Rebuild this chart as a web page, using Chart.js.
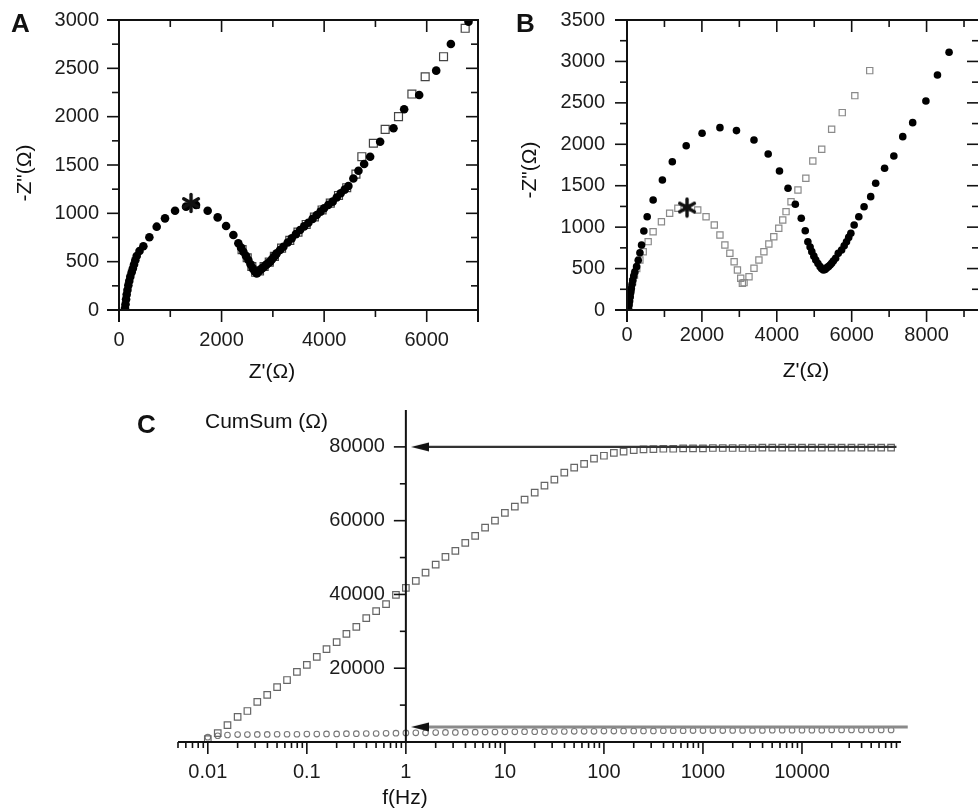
<!DOCTYPE html>
<html><head><meta charset="utf-8">
<script src="https://cdn.jsdelivr.net/npm/chart.js@4.4.1/dist/chart.umd.min.js"></script>
<style>
html,body{margin:0;padding:0;background:#fff;overflow:hidden;width:978px;height:809px;position:relative;}
canvas{position:absolute;}
#cA{left:0;top:0;}
#cB{left:490px;top:0;}
#cC{left:0;top:390px;}
</style></head><body>
<canvas id="cA" width="490" height="390"></canvas>
<canvas id="cB" width="500" height="390"></canvas>
<canvas id="cC" width="978" height="419"></canvas>
<script>
// ---------------- DATA ----------------
// Panel A : Nyquist plot  [Z' (ohm), -Z'' (ohm)]
const aCircles = [[117,17],[127,60],[138,110],[150,160],[165,207],[182,255],[200,300],[220,345],[247,390],[270,430],[293,470],[318,515],[345,559],[400,610],[475,660],[592,752],[735,862],[897,948],[1093,1027],[1307,1069],[1502,1086],[1729,1027],[1924,958],[2088,869],[2230,776],[2327,690],[2380,645],[2425,603],[2475,560],[2522,517],[2565,474],[2607,431],[2645,400],[2685,379],[2720,395],[2755,415],[2785,430],[2815,441],[2850,458],[2880,472],[2915,487],[2946,500],[2980,522],[3010,543],[3045,565],[3075,586],[3140,620],[3206,655],[3290,698],[3368,741],[3450,785],[3531,828],[3610,865],[3693,903],[3775,943],[3856,983],[3930,1018],[3999,1052],[4080,1087],[4167,1121],[4245,1164],[4323,1207],[4400,1245],[4473,1283],[4570,1360],[4669,1440],[4780,1510],[4897,1586],[5092,1741],[5352,1880],[5560,2076],[5853,2224],[6185,2476],[6471,2752],[6815,2983]];
const aSquares = [[2400,625],[2500,540],[2590,450],[2665,390],[2740,405],[2830,450],[2930,495],[3030,555],[3170,640],[3330,720],[3490,805],[3650,885],[3810,962],[3960,1035],[4120,1105],[4280,1185],[4440,1265],[4620,1405],[4735,1586],[4960,1725],[5190,1869],[5450,2000],[5711,2234],[5970,2413],[6328,2620],[6750,2914]];
const aStar = [1405,1107];
const aXTicks = [0,2000,4000,6000];
const aYTicks = [0,500,1000,1500,2000,2500,3000];

// Panel B : Nyquist plot
const bCircles = [[40,15],[55,60],[70,110],[85,160],[100,210],[115,260],[135,310],[155,360],[180,410],[210,460],[256,523],[300,600],[345,690],[389,785],[450,954],[539,1126],[698,1328],[945,1569],[1210,1790],[1581,1983],[2005,2133],[2482,2201],[2923,2165],[3391,2052],[3770,1883],[4072,1678],[4300,1469],[4495,1276],[4654,1107],[4760,957],[4830,824],[4890,760],[4935,704],[4990,650],[5041,604],[5100,560],[5157,523],[5200,498],[5245,483],[5290,490],[5330,508],[5377,523],[5423,543],[5465,564],[5510,590],[5571,624],[5642,684],[5730,724],[5800,774],[5862,824],[5920,876],[5978,926],[6066,1026],[6190,1126],[6331,1247],[6508,1368],[6641,1529],[6879,1710],[7126,1859],[7364,2092],[7629,2261],[7982,2523],[8291,2836],[8601,3110]];
const bSquares = [[40,20],[60,100],[85,180],[115,260],[150,340],[200,420],[260,500],[344,604],[433,704],[565,825],[697,945],[919,1066],[1139,1167],[1359,1228],[1600,1235],[1889,1207],[2111,1126],[2331,1026],[2482,905],[2614,785],[2747,684],[2861,583],[2949,483],[3037,383],[3081,322],[3126,330],[3258,402],[3391,503],[3523,604],[3656,704],[3788,797],[3920,885],[4053,986],[4159,1086],[4247,1187],[4380,1307],[4565,1448],[4776,1590],[4962,1798],[5200,1940],[5465,2181],[5748,2382],[6084,2587],[6482,2889]];
const bStar = [1603,1237];
const bXTicks = [0,2000,4000,6000,8000];
const bYTicks = [0,500,1000,1500,2000,2500,3000,3500];

// Panel C : cumulative sum vs frequency
const cFreq = [0.01,0.0126,0.0158,0.02,0.0251,0.0316,0.0398,0.0501,0.0631,0.0794,
  0.1,0.126,0.158,0.2,0.251,0.316,0.398,0.501,0.631,0.794,
  1,1.26,1.58,2,2.51,3.16,3.98,5.01,6.31,7.94,
  10,12.6,15.8,20,25.1,31.6,39.8,50.1,63.1,79.4,
  100,126,158,200,251,316,398,501,631,794,
  1000,1259,1585,1995,2512,3162,3981,5012,6310,7943,
  10000,12589,15849,19953,25119,31623,39811,50119,63096,79433];
const cRise = [800,2400,4600,6800,8400,10900,12800,14900,16800,19000,
  20900,23100,25200,27100,29300,31200,33600,35500,37400,39900,
  41800,43700,45900,48100,50200,51800,54000,55900,58100,60000,
  62100,63800,65700,67600,69500,71100,73000,74400,75400,76800,
  77600,78400,78700,79100,79300,79400,79500,79500,79600,79600,
  79600,79700,79700,79700,79700,79700,79800,79800,79800,79800,
  79800,79800,79800,79800,79800,79800,79800,79800,79800,79800];
const cBase = [1300,1700,1900,2000,2000,2050,2050,2100,2100,2100,
  2150,2150,2200,2200,2250,2250,2300,2300,2350,2400,
  2450,2500,2500,2550,2600,2600,2650,2650,2700,2700,
  2750,2750,2800,2800,2800,2850,2850,2900,2900,2900,
  2950,2950,3000,3000,3000,3000,3050,3050,3050,3100,
  3100,3100,3100,3150,3150,3150,3150,3200,3200,3200,
  3200,3200,3200,3250,3250,3250,3250,3250,3250,3250];
const cArrowTop = [[1.39,80000],[90000,80000]];
const cArrowLow = [[1.39,4100],[117000,4100]];
const cXTicks = [0.01,0.1,1,10,100,1000,10000];
const cYTicks = [20000,40000,60000,80000];

// ---------------- STYLE / HELPERS ----------------
const FONT = "'Liberation Sans', Arial, Helvetica, sans-serif";
Chart.defaults.font.family = FONT;
Chart.defaults.color = '#1c1c1c';
Chart.defaults.animation = false;

const pts = arr => arr.map(p => ({x: p[0], y: p[1]}));
const zip = (xs, ys) => xs.map((x, i) => ({x, y: ys[i]}));

function linTicks(min, max, minor, major) {
  const out = [];
  for (let v = min; v <= max + 1e-9; v += minor) out.push({v, major: Math.abs(v / major - Math.round(v / major)) < 1e-6});
  return out;
}
function logTicks(min, max) {
  const out = [];
  for (let d = -4; d <= 6; d++) for (let m = 1; m <= 9; m++) {
    const v = m * Math.pow(10, d);
    if (v >= min * 0.999 && v < max * 0.999) out.push({v, major: m === 1});
  }
  return out;
}

const axisFrame = {
  id: 'axisFrame',
  afterDatasetsDraw(chart, args, o) {
    if (!o || !o.mode) return;
    const ctx = chart.ctx, ca = chart.chartArea, xs = chart.scales.x, ys = chart.scales.y;
    const seg = (x1, y1, x2, y2) => { ctx.beginPath(); ctx.moveTo(x1, y1); ctx.lineTo(x2, y2); ctx.stroke(); };
    ctx.save();
    ctx.strokeStyle = o.color;
    const lw = o.lineWidth;
    if (o.mode === 'box') {
      const L = ca.left, R = ca.right, T = ca.top, B = ca.bottom, e = o.ext;
      ctx.lineWidth = o.tickWidth;
      o.xTicks.forEach(t => {
        const p = xs.getPixelForValue(t.v), len = t.major ? o.majorLen : o.minorLen;
        seg(p, B, p, B + len); seg(p, T, p, T + len);
      });
      o.yTicks.forEach(t => {
        const p = ys.getPixelForValue(t.v), len = t.major ? o.majorLen : o.minorLen;
        seg(L, p, L - len, p); seg(R, p, R - len, p);
      });
      ctx.lineWidth = lw;
      seg(L - e, B, R + lw / 2, B); seg(L - e, T, R + lw / 2, T);
      seg(L, T - lw / 2, L, B + e); seg(R, T - lw / 2, R, B + e);
    } else {
      const ax = xs.getPixelForValue(o.yAt), B = ys.getPixelForValue(0);
      ctx.lineWidth = o.tickWidth;
      o.xTicks.forEach(t => {
        const p = xs.getPixelForValue(t.v), len = t.major ? o.majorLen : o.minorLen;
        seg(p, B, p, B + len);
      });
      o.yTicks.forEach(t => {
        const p = ys.getPixelForValue(t.v), len = t.major ? o.majorLen : o.minorLen;
        seg(ax, p, ax - len, p);
      });
      ctx.lineWidth = lw;
      seg(ca.left, B, ca.right, B);
      seg(ax, ca.top, ax, B + lw / 2);
    }
    ctx.restore();
  }
};

const panelText = {
  id: 'panelText',
  afterDraw(chart, args, o) {
    const ctx = chart.ctx;
    (o.items || []).forEach(t => {
      ctx.save();
      ctx.font = t.font; ctx.fillStyle = t.color || '#111';
      ctx.textAlign = t.align || 'center'; ctx.textBaseline = t.baseline || 'middle';
      ctx.translate(t.x, t.y); if (t.rot) ctx.rotate(t.rot);
      ctx.fillText(t.text, 0, 0);
      ctx.restore();
    });
  }
};

const tickFont = {family: FONT, size: 20};
const titleFont = "21px " + FONT;
const letterFont = "bold 26px " + FONT;
const fmt = v => String(v);

function fixSize(key, val) {
  return s => { s[key] = val; s.paddingTop = 0; s.paddingBottom = 0; s.paddingLeft = 0; s.paddingRight = 0; };
}
function linScale(min, max, ticks, fitKey, fitVal, pad) {
  return {
    type: 'linear', min, max,
    afterBuildTicks: s => { s.ticks = ticks.map(v => ({value: v})); },
    afterFit: fixSize(fitKey, fitVal),
    grid: {display: false, drawTicks: false},
    border: {display: false},
    ticks: {padding: pad, font: tickFont, color: '#1c1c1c', maxRotation: 0, autoSkip: false, callback: fmt}
  };
}

// asterisk marker image (drawn as a point style)
function asteriskImg() {
  const c = document.createElement('canvas');
  c.width = 22; c.height = 22;
  const g = c.getContext('2d');
  g.strokeStyle = '#111'; g.lineWidth = 3.4; g.lineCap = 'round';
  for (let k = 0; k < 3; k++) {
    const a = Math.PI / 2 + k * Math.PI / 3;
    g.beginPath();
    g.moveTo(11 + 8.5 * Math.cos(a), 11 + 8.5 * Math.sin(a));
    g.lineTo(11 - 8.5 * Math.cos(a), 11 - 8.5 * Math.sin(a));
    g.stroke();
  }
  return c;
}
const starImg = asteriskImg();

const common = {
  responsive: false, maintainAspectRatio: false, animation: false, events: [],
  devicePixelRatio: 1
};

// ---------------- PANEL A ----------------
new Chart(document.getElementById('cA'), {
  type: 'scatter',
  data: {datasets: [
    {label: 'star', data: pts([aStar]), pointStyle: starImg, pointRadius: 10},
    {label: 'A filled', data: pts(aCircles), pointStyle: 'circle', pointRadius: 4.3, backgroundColor: '#000', borderColor: '#000', borderWidth: 0},
    {label: 'A open', data: pts(aSquares), pointStyle: 'rect', pointRadius: 5.6, backgroundColor: 'rgba(255,255,255,0)', borderColor: '#444', borderWidth: 1.2}
  ]},
  options: Object.assign({}, common, {
    layout: {padding: {left: 0, top: 20, right: 12, bottom: 0}},
    scales: {
      x: linScale(0, 7000, aXTicks, 'height', 80, 18),
      y: linScale(0, 3000, aYTicks, 'width', 119, 20)
    },
    plugins: {
      legend: {display: false}, tooltip: {enabled: false},
      axisFrame: {mode: 'box', color: '#111', lineWidth: 2, tickWidth: 1.6, ext: 12, majorLen: 12, minorLen: 7,
        xTicks: linTicks(0, 7000, 1000, 2000), yTicks: linTicks(0, 3000, 250, 500)},
      panelText: {
        items: [
          {text: 'A', x: 11, y: 32, font: letterFont, align: 'left', baseline: 'alphabetic'},
          {text: '-Z"(Ω)', x: 25, y: 173, font: titleFont, rot: -Math.PI / 2},
          {text: "Z'(Ω)", x: 272, y: 372, font: titleFont}
        ]
      }
    }
  }),
  plugins: [axisFrame, panelText]
});

// ---------------- PANEL B ----------------
new Chart(document.getElementById('cB'), {
  type: 'scatter',
  data: {datasets: [
    {label: 'star', data: pts([bStar]), pointStyle: starImg, pointRadius: 10},
    {label: 'B filled', data: pts(bCircles), pointStyle: 'circle', pointRadius: 3.8, backgroundColor: '#000', borderColor: '#000', borderWidth: 0},
    {label: 'B open', data: pts(bSquares), pointStyle: 'rect', pointRadius: 4.4, backgroundColor: 'rgba(255,255,255,0)', borderColor: '#8a8a8a', borderWidth: 1.2}
  ]},
  options: Object.assign({}, common, {
    layout: {padding: {left: 0, top: 20, right: 8, bottom: 0}},
    scales: {
      x: linScale(0, 9400, bXTicks, 'height', 80, 13),
      y: linScale(0, 3500, bYTicks, 'width', 137, 22)
    },
    plugins: {
      legend: {display: false}, tooltip: {enabled: false},
      axisFrame: {mode: 'box', color: '#111', lineWidth: 2, tickWidth: 1.6, ext: 12, majorLen: 12, minorLen: 7,
        xTicks: linTicks(0, 9000, 1000, 2000), yTicks: linTicks(0, 3500, 250, 500)},
      panelText: {
        items: [
          {text: 'B', x: 26, y: 32, font: letterFont, align: 'left', baseline: 'alphabetic'},
          {text: '-Z"(Ω)', x: 40, y: 170, font: titleFont, rot: -Math.PI / 2},
          {text: "Z'(Ω)", x: 316, y: 371, font: titleFont}
        ]
      }
    }
  }),
  plugins: [axisFrame, panelText]
});

// ---------------- PANEL C ----------------
function arrowHead(color) {
  const c = document.createElement('canvas');
  c.width = 18; c.height = 10;
  const g = c.getContext('2d');
  g.fillStyle = color;
  g.beginPath(); g.moveTo(0, 5); g.lineTo(18, 0.5); g.lineTo(18, 9.5); g.closePath(); g.fill();
  return c;
}
const headDark = arrowHead('#111');

new Chart(document.getElementById('cC'), {
  type: 'scatter',
  data: {datasets: [
    {label: 'arrow high', data: pts(cArrowTop), showLine: true, borderColor: '#333', borderWidth: 2.4,
      pointStyle: [headDark, 'circle'], pointRadius: [8, 0], clip: false},
    {label: 'arrow low', data: pts(cArrowLow), showLine: true, borderColor: '#8a8a8a', borderWidth: 3,
      pointStyle: [headDark, 'circle'], pointRadius: [8, 0], clip: false},
    {label: 'CumSum rising', data: zip(cFreq, cRise), pointStyle: 'rect', pointRadius: 4.6, backgroundColor: 'rgba(255,255,255,0)', borderColor: '#666', borderWidth: 1.2},
    {label: 'CumSum low', data: zip(cFreq, cBase), pointStyle: 'circle', pointRadius: 2.8, backgroundColor: 'rgba(255,255,255,0)', borderColor: '#777', borderWidth: 1.1}
  ]},
  options: Object.assign({}, common, {
    layout: {padding: {left: 178, top: 20, right: 77, bottom: 0}},
    scales: {
      x: {
        type: 'logarithmic', min: 0.005, max: 100000,
        afterBuildTicks: s => { s.ticks = cXTicks.map(v => ({value: v})); },
        afterFit: fixSize('height', 67),
        grid: {display: false, drawTicks: false}, border: {display: false},
        ticks: {padding: 18, font: tickFont, color: '#1c1c1c', maxRotation: 0, autoSkip: false, callback: fmt}
      },
      y: {
        type: 'linear', min: 0, max: 90000, position: {x: 0.615},
        afterBuildTicks: s => { s.ticks = cYTicks.map(v => ({value: v})); },
        afterFit: s => { s.paddingTop = 0; s.paddingBottom = 0; },
        grid: {display: false, drawTicks: false}, border: {display: false},
        ticks: {padding: 0, font: tickFont, color: '#1c1c1c', autoSkip: false, callback: fmt}
      }
    },
    plugins: {
      legend: {display: false}, tooltip: {enabled: false},
      axisFrame: {mode: 'cross', yAt: 1, color: '#111', lineWidth: 2, tickWidth: 1.6, majorLen: 12, minorLen: 6,
        xTicks: logTicks(0.005, 100000), yTicks: linTicks(0, 80000, 10000, 20000)},
      panelText: {
        items: [
          {text: 'C', x: 137, y: 43, font: letterFont, align: 'left', baseline: 'alphabetic'},
          {text: 'CumSum (Ω)', x: 205, y: 38, font: titleFont, align: 'left', baseline: 'alphabetic'},
          {text: 'f(Hz)', x: 405, y: 408, font: titleFont}
        ]
      }
    }
  }),
  plugins: [axisFrame, panelText]
});
</script></body></html>
